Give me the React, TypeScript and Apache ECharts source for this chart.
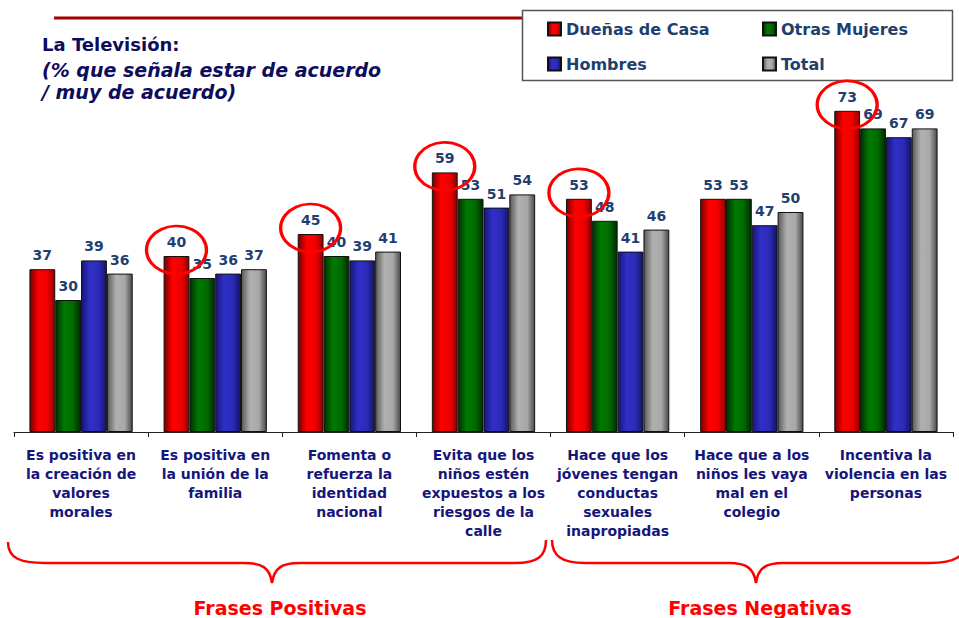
import React, { useEffect, useRef } from "react";
import * as echarts from "echarts";

const categories = [
  "Es positiva en\nla creación de\nvalores\nmorales",
  "Es positiva en\nla unión de la\nfamilia",
  "Fomenta o\nrefuerza la\nidentidad\nnacional",
  "Evita que los\nniños estén\nexpuestos a los\nriesgos de la\ncalle",
  "Hace que los\njóvenes tengan\nconductas\nsexuales\ninapropiadas",
  "Hace que a los\nniños les vaya\nmal en el\ncolegio",
  "Incentiva la\nviolencia en las\npersonas",
];
const seriesNames = ["Dueñas de Casa", "Otras Mujeres", "Hombres", "Total"];
const duenas = [37, 40, 45, 59, 53, 53, 73];
const otras = [30, 35, 40, 53, 48, 53, 69];
const hombres = [39, 36, 39, 51, 41, 47, 67];
const total = [36, 37, 41, 54, 46, 50, 69];
const circled = [1, 2, 3, 4, 6];
const groupLabels = ["Frases Positivas", "Frases Negativas"];

const grad = (a: string, b: string, c: string, d: string) =>
  new echarts.graphic.LinearGradient(0, 0, 1, 0, [
    { offset: 0, color: a },
    { offset: 0.35, color: b },
    { offset: 0.7, color: c },
    { offset: 1, color: d },
  ]);

const fills = [
  () => grad("#7a0000", "#ff0000", "#f00000", "#900000"),
  () => grad("#003000", "#007a00", "#006a00", "#002a00"),
  () => grad("#16167a", "#3030c8", "#2a2ab8", "#141460"),
  () => grad("#5a5a5a", "#b0b0b0", "#a8a8a8", "#4a4a4a"),
];

const braceL =
  "M 8 542 C 8 558 20 563 45 563 L 245 563 C 262 563 270 568 272 583 C 274 568 282 563 299 563 L 515 563 C 538 563 546 556 546 540";
const braceR =
  "M 552 540 C 552 556 562 563 585 563 L 729 563 C 746 563 754 568 756 583 C 758 568 766 563 783 563 L 930 563 C 955 563 966 556 968 540";

echarts.graphic.registerShape("braceL", echarts.graphic.extendPath(braceL, {}));
echarts.graphic.registerShape("braceR", echarts.graphic.extendPath(braceR, {}));

const legendPos = [
  [547, 21],
  [762, 21],
  [547, 56],
  [762, 56],
];

export default function App() {
  const ref = useRef<HTMLDivElement>(null);
  useEffect(() => {
    if (!ref.current) return;
    const chart = echarts.init(ref.current, undefined, { renderer: "svg" });
    const datas = [duenas, otras, hombres, total];
    const series: any[] = datas.map((d, i) => ({
      name: seriesNames[i],
      type: "bar",
      data: d,
      barGap: "0%",
      barCategoryGap: "23%",
      itemStyle: { color: fills[i](), borderColor: "#111", borderWidth: 1 },
      label: {
        show: true,
        position: "top",
        distance: 7,
        color: "#1f3f6f",
        fontFamily: "DejaVu Sans",
        fontWeight: "bold",
        fontSize: 14,
      },
    }));
    series[0].markPoint = {
      symbol: "circle",
      symbolSize: [60, 48],
      symbolOffset: [0, -6],
      itemStyle: { color: "rgba(0,0,0,0)", borderColor: "#ff0000", borderWidth: 3 },
      label: { show: false },
      silent: true,
      data: circled.map((i) => ({ coord: [i, duenas[i]] })),
    };
    const legendText = {
      color: "#1f3f6f",
      fontFamily: "DejaVu Sans",
      fontWeight: "bold",
      fontSize: 16,
    };
    chart.setOption({
      animation: false,
      backgroundColor: "#fff",
      grid: { left: 14, right: 6, top: 80, bottom: 186 },
      legend: seriesNames.map((n, i) => ({
        data: [n],
        left: legendPos[i][0],
        top: legendPos[i][1],
        icon: "rect",
        itemWidth: 13,
        itemHeight: 13,
        itemGap: 0,
        textStyle: legendText,
        padding: 0,
      })),
      xAxis: {
        type: "category",
        data: categories,
        axisLine: { lineStyle: { color: "#222", width: 1 } },
        axisTick: { show: true, length: 5, lineStyle: { color: "#222" } },
        axisLabel: {
          interval: 0,
          margin: 13,
          color: "#16167a",
          fontFamily: "DejaVu Sans",
          fontWeight: "bold",
          fontSize: 14,
          lineHeight: 19,
        },
      },
      yAxis: {
        type: "value",
        min: 0,
        max: 80,
        show: false,
        splitLine: { show: false },
      },
      series,
      graphic: [
        {
          type: "line",
          shape: { x1: 54, y1: 18, x2: 522, y2: 18 },
          style: { stroke: "#a50000", lineWidth: 3 },
        },
        {
          type: "rect",
          shape: { x: 522.5, y: 10.5, width: 430, height: 70 },
          style: { fill: "none", stroke: "#555", lineWidth: 1.5 },
        },
        {
          type: "text",
          left: 42,
          top: 35,
          style: {
            text: "La Televisión:",
            fill: "#0d0d5c",
            font: "bold 18px 'DejaVu Sans'",
          },
        },
        {
          type: "text",
          left: 42,
          top: 59,
          style: {
            text: "(% que señala estar de acuerdo\n/ muy de acuerdo)",
            fill: "#0d0d5c",
            font: "italic bold 19px 'DejaVu Sans'",
            lineHeight: 22,
          },
        },
        {
          type: "braceL",
          style: { fill: "none", stroke: "#ff0000", lineWidth: 2.5 },
        },
        {
          type: "braceR",
          style: { fill: "none", stroke: "#ff0000", lineWidth: 2.5 },
        },
        {
          type: "text",
          x: 280,
          y: 608,
          style: {
            text: groupLabels[0],
            fill: "#ff0000",
            font: "bold 19px 'DejaVu Sans'",
            align: "center",
            verticalAlign: "middle",
          },
        },
        {
          type: "text",
          x: 760,
          y: 608,
          style: {
            text: groupLabels[1],
            fill: "#ff0000",
            font: "bold 19px 'DejaVu Sans'",
            align: "center",
            verticalAlign: "middle",
          },
        },
      ],
    });
    return () => chart.dispose();
  }, []);
  return <div ref={ref} style={{ width: 959, height: 618, position: "absolute", left: 0, top: 0 }} />;
}
